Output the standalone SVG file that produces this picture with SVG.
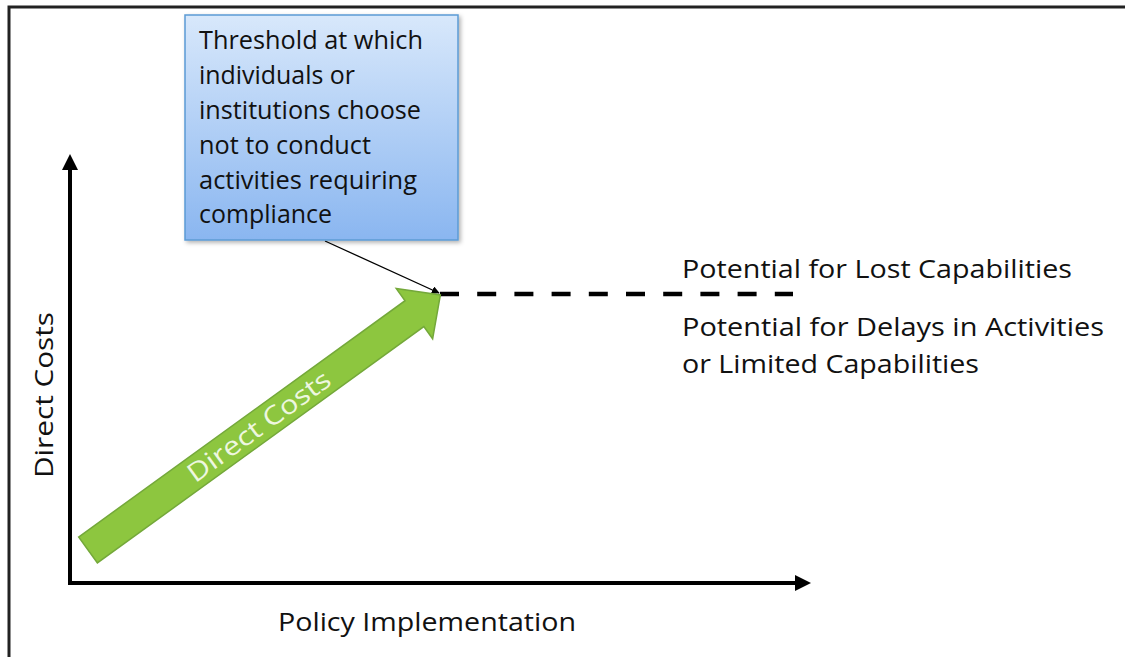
<svg xmlns="http://www.w3.org/2000/svg" width="1125" height="657" viewBox="0 0 1125 657">
<defs>
  <linearGradient id="boxGrad" x1="0" y1="0" x2="0" y2="1">
    <stop offset="0" stop-color="#d8e8fb"/>
    <stop offset="1" stop-color="#8ab6f0"/>
  </linearGradient>
  <marker id="smallHead" viewBox="0 0 10 10" refX="9" refY="5" markerWidth="8" markerHeight="8" markerUnits="userSpaceOnUse" orient="auto">
    <path d="M0,0 L10,5 L0,10 z" fill="#000"/>
  </marker>
  <filter id="shadow" x="-10%" y="-10%" width="130%" height="130%">
    <feDropShadow dx="2" dy="2" stdDeviation="2" flood-color="#000" flood-opacity="0.3"/>
  </filter>
</defs>
<style>
  .t { font-family: "Open Sans", "Liberation Sans", sans-serif; font-size: 26px; fill: #111; }
  .axis { stroke: #000; stroke-width: 4; fill: none; }
  .frame { stroke: #222; stroke-width: 3; fill: none; }
</style>
<rect x="0" y="0" width="1125" height="657" fill="#fff"/>
<path class="frame" d="M9,657 L9,7 L1125,7"/>

<g id="connectors">
  <line class="axis" x1="70" y1="585" x2="70" y2="168"/>
  <path d="M62,170 L70,154 L78,170 z" fill="#000"/>
  <line class="axis" x1="68" y1="583" x2="797" y2="583"/>
  <path d="M795,575 L811,583 L795,591 z" fill="#000"/>
  <line x1="325" y1="241" x2="439" y2="293" stroke="#000" stroke-width="1.3" marker-end="url(#smallHead)"/>
  <line x1="440" y1="294" x2="793" y2="294" stroke="#000" stroke-width="4.5" stroke-dasharray="19 18.2"/>
</g>

<g id="growth-arrow" transform="translate(88,550) rotate(-35.9)">
  <path d="M0,-16 L403,-16 L403,-31 L435,0 L403,31 L403,16 L0,16 z" fill="#8dc63f" stroke="#74a83a" stroke-width="1.5"/>
  <text class="t" x="211" y="9" text-anchor="middle" style="fill:#eef7e0" textLength="170" lengthAdjust="spacingAndGlyphs">Direct Costs</text>
</g>

<g id="threshold-callout">
  <rect x="185" y="15" width="273" height="225" fill="url(#boxGrad)" stroke="#5b9bd5" stroke-width="1.5" filter="url(#shadow)"/>
  <text class="t" x="199" y="49" textLength="224" lengthAdjust="spacingAndGlyphs">Threshold at which</text>
  <text class="t" x="199" y="84" textLength="156" lengthAdjust="spacingAndGlyphs">individuals or</text>
  <text class="t" x="199" y="119" textLength="222" lengthAdjust="spacingAndGlyphs">institutions choose</text>
  <text class="t" x="199" y="154" textLength="172" lengthAdjust="spacingAndGlyphs">not to conduct</text>
  <text class="t" x="199" y="189" textLength="218" lengthAdjust="spacingAndGlyphs">activities requiring</text>
  <text class="t" x="199" y="223" textLength="133" lengthAdjust="spacingAndGlyphs">compliance</text>
</g>

<g id="y-label">
  <text class="t" x="0" y="0" transform="translate(53,395) rotate(-90)" text-anchor="middle" textLength="166" lengthAdjust="spacingAndGlyphs">Direct Costs</text>
</g>

<g id="x-label">
  <text class="t" x="278" y="631" textLength="298" lengthAdjust="spacingAndGlyphs">Policy Implementation</text>
</g>

<g id="lost-capabilities">
  <text class="t" x="682" y="278" textLength="390" lengthAdjust="spacingAndGlyphs">Potential for Lost Capabilities</text>
</g>

<g id="delays">
  <text class="t" x="682" y="336" textLength="422" lengthAdjust="spacingAndGlyphs">Potential for Delays in Activities</text>
  <text class="t" x="682" y="373" textLength="297" lengthAdjust="spacingAndGlyphs">or Limited Capabilities</text>
</g>
</svg>
